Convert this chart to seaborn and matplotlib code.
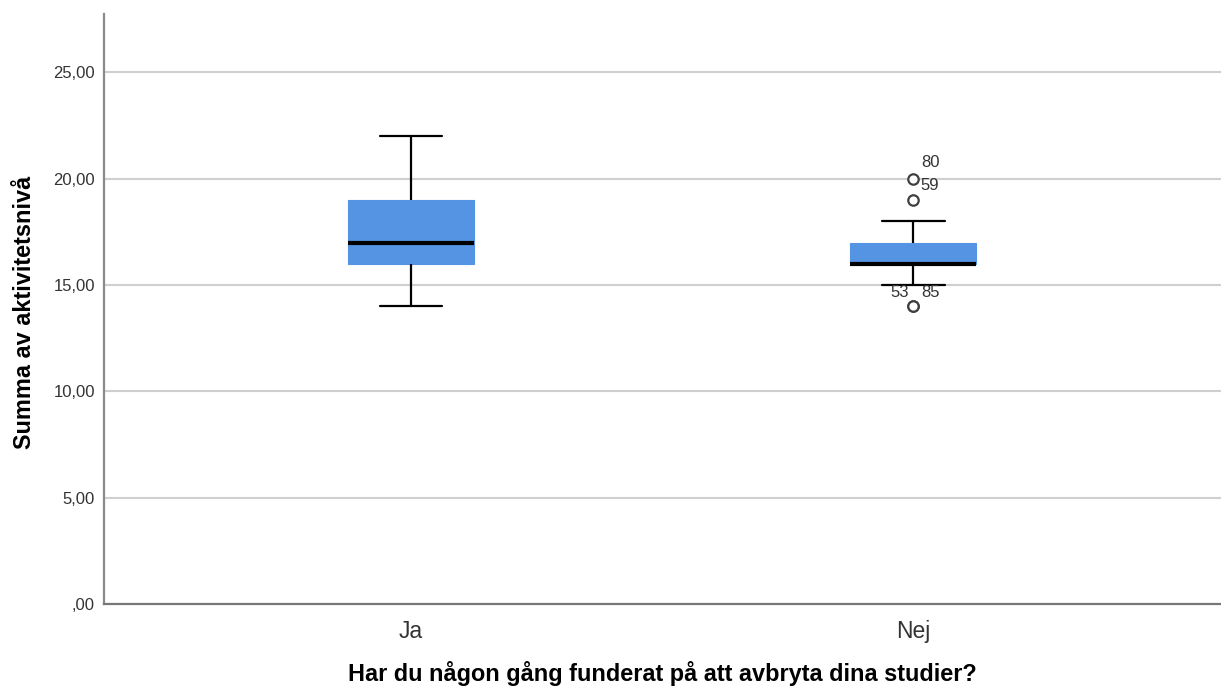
import matplotlib
matplotlib.use("Agg")
import matplotlib.pyplot as plt
import seaborn as sns
import pandas as pd

# Responses per group (sum of activity level)
groups = ["Ja", "Nej"]
ja_values = [14, 15, 16, 16, 17, 17, 17, 18, 19, 19, 20, 22]
nej_values = [14, 14, 15, 16, 16, 16, 16, 16, 16, 17, 17, 17, 18, 19, 20]

# Case numbers of the outliers in the "Nej" group
nej_outlier_values = [20, 19, 14, 14]
nej_outlier_ids = ["80", "59", "53", "85"]

y_ticks = [0, 5, 10, 15, 20, 25]
y_tick_labels = [",00", "5,00", "10,00", "15,00", "20,00", "25,00"]

df = pd.DataFrame({
    "grupp": ["Ja"] * len(ja_values) + ["Nej"] * len(nej_values),
    "summa": ja_values + nej_values,
})

sns.set_theme(style="white")
plt.rcParams["font.family"] = ["Liberation Sans", "DejaVu Sans"]

fig = plt.figure(figsize=(12.21, 6.89), dpi=100)
ax = fig.add_axes([0.0852, 0.1234, 0.9148, 0.8563])

box_color = "#5594e3"
sns.boxplot(
    data=df, x="grupp", y="summa", order=groups, ax=ax,
    width=0.25, whis=1.5,
    boxprops=dict(facecolor=box_color, edgecolor=box_color, linewidth=0.8),
    medianprops=dict(color="black", linewidth=3),
    whiskerprops=dict(color="black", linewidth=1.6),
    capprops=dict(color="black", linewidth=1.6),
    flierprops=dict(marker="o", markersize=7.5, markerfacecolor="white",
                    markeredgecolor="#404040", markeredgewidth=1.6),
)

# Case labels next to the outliers
label_offsets = [(17, 16), (17, 15), (-13, 14), (17, 14)]
for val, cid, (dx, dy) in zip(nej_outlier_values, nej_outlier_ids, label_offsets):
    ax.annotate(cid, xy=(1, val), xytext=(dx, dy), textcoords="offset pixels",
                ha="center", va="center", fontsize=12, color="#333333")

ax.set_xlim(-0.611, 1.613)
ax.set_ylim(0, 27.75)
ax.set_yticks(y_ticks)
ax.set_yticklabels(y_tick_labels)
ax.yaxis.grid(True, color="#cfcfcf", linewidth=1.5)
ax.set_axisbelow(True)
ax.tick_params(axis="y", length=0, pad=6.5, labelsize=12, labelcolor="#333333")
ax.tick_params(axis="x", length=0, pad=11.5, labelsize=16.5, labelcolor="#333333")

for side in ["top", "right"]:
    ax.spines[side].set_visible(False)
ax.spines["left"].set_color("#8a8a8a")
ax.spines["left"].set_linewidth(1.6)
ax.spines["bottom"].set_color("#777777")
ax.spines["bottom"].set_linewidth(1.6)

ax.set_xlabel("Har du någon gång funderat på att avbryta dina studier?",
              fontsize=16.9, fontweight="bold", color="black")
ax.set_ylabel("Summa av aktivitetsnivå", fontsize=16.9, fontweight="bold",
              color="black")
ax.xaxis.set_label_coords(0.5, -0.097)
ax.yaxis.set_label_coords(-0.0613, 0.495)

fig.savefig("out.png", dpi=100)
